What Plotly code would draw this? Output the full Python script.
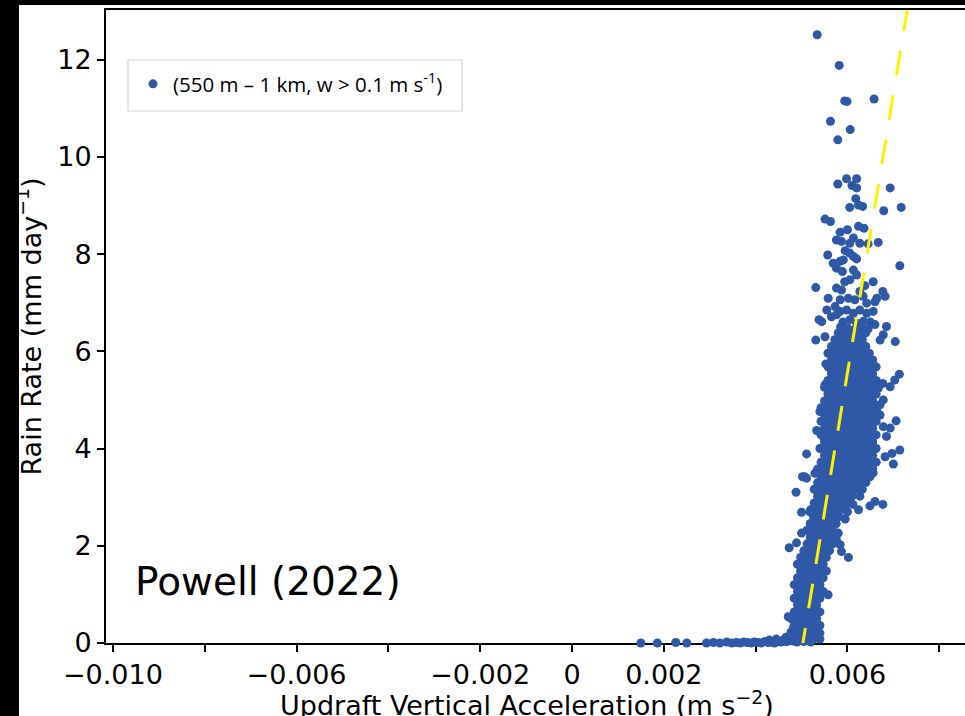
import plotly.graph_objects as go

# ---------------- data ----------------
# Points lying on (or just above) the zero-rain baseline: (acceleration m s^-2, rain rate mm/day)
baseline_pts = [
    (0.00150, 0.00), (0.00186, 0.00), (0.00226, 0.01), (0.00250, 0.00), (0.00293, 0.00),
    (0.00308, 0.01), (0.00322, 0.00), (0.00337, 0.02), (0.00348, 0.00), (0.00358, 0.01),
    (0.00366, 0.00), (0.00374, 0.02), (0.00382, 0.01), (0.00390, 0.00), (0.00397, 0.02),
    (0.00405, 0.01), (0.00412, 0.00), (0.00420, 0.03), (0.00427, 0.01), (0.00434, 0.02),
    (0.00441, 0.00), (0.00448, 0.03), (0.00455, 0.02), (0.00462, 0.04), (0.00468, 0.03),
    (0.00475, 0.05), (0.00482, 0.04), (0.00490, 0.02), (0.00498, 0.06), (0.00505, 0.03),
    (0.00512, 0.05), (0.00520, 0.02), (0.00430, 0.06), (0.00445, 0.08), (0.00458, 0.05),
    (0.00466, 0.12), (0.00440, 0.03), (0.00472, 0.10), (0.00480, 0.15),
]

# Dense stem (rain rate 0 - 2.6): one row of accelerations per rain-rate level
stem_row_y = [0.08, 0.22, 0.36, 0.50, 0.64, 0.78, 0.92, 1.06, 1.20, 1.34,
              1.48, 1.62, 1.76, 1.90, 2.04, 2.18, 2.32, 2.46, 2.60]
stem_row_x = [
    [0.00470, 0.00484, 0.00498, 0.00512, 0.00526, 0.00540],
    [0.00477, 0.00491, 0.00505, 0.00519, 0.00533],
    [0.00484, 0.00498, 0.00512, 0.00526, 0.00540],
    [0.00477, 0.00491, 0.00505, 0.00519, 0.00533],
    [0.00484, 0.00498, 0.00512, 0.00526, 0.00540],
    [0.00491, 0.00505, 0.00519, 0.00533],
    [0.00484, 0.00498, 0.00512, 0.00526, 0.00540],
    [0.00491, 0.00505, 0.00519, 0.00533, 0.00547],
    [0.00484, 0.00498, 0.00512, 0.00526, 0.00540],
    [0.00491, 0.00505, 0.00519, 0.00533, 0.00547],
    [0.00498, 0.00512, 0.00526, 0.00540, 0.00554],
    [0.00491, 0.00505, 0.00519, 0.00533, 0.00547],
    [0.00498, 0.00512, 0.00526, 0.00540, 0.00554],
    [0.00505, 0.00519, 0.00533, 0.00547, 0.00561],
    [0.00512, 0.00526, 0.00540, 0.00554, 0.00568],
    [0.00519, 0.00533, 0.00547, 0.00561, 0.00575],
    [0.00512, 0.00526, 0.00540, 0.00554, 0.00568],
    [0.00519, 0.00533, 0.00547, 0.00561, 0.00575],
    [0.00526, 0.00540, 0.00554, 0.00568, 0.00582],
]

# Dense core (rain rate 2.7 - 6.4)
core_row_y = [2.74, 2.88, 3.02, 3.16, 3.30, 3.44, 3.58, 3.72, 3.86, 4.00,
              4.14, 4.28, 4.42, 4.56, 4.70, 4.84, 4.98, 5.12, 5.26, 5.40,
              5.54, 5.68, 5.82, 5.96, 6.10, 6.24, 6.38]
core_row_x = [
    [0.005200, 0.005350, 0.005500, 0.005650, 0.005800, 0.005950],
    [0.005275, 0.005425, 0.005575, 0.005725, 0.005875, 0.006025],
    [0.005350, 0.005500, 0.005650, 0.005800, 0.005950, 0.006100],
    [0.005275, 0.005425, 0.005575, 0.005725, 0.005875, 0.006025, 0.006175, 0.006325],
    [0.005350, 0.005500, 0.005650, 0.005800, 0.005950, 0.006100, 0.006250, 0.006400],
    [0.005425, 0.005575, 0.005725, 0.005875, 0.006025, 0.006175, 0.006325, 0.006475],
    [0.005350, 0.005500, 0.005650, 0.005800, 0.005950, 0.006100, 0.006250, 0.006400, 0.006550],
    [0.005425, 0.005575, 0.005725, 0.005875, 0.006025, 0.006175, 0.006325, 0.006475, 0.006625],
    [0.005500, 0.005650, 0.005800, 0.005950, 0.006100, 0.006250, 0.006400, 0.006550],
    [0.005425, 0.005575, 0.005725, 0.005875, 0.006025, 0.006175, 0.006325, 0.006475, 0.006625],
    [0.005500, 0.005650, 0.005800, 0.005950, 0.006100, 0.006250, 0.006400, 0.006550],
    [0.005425, 0.005575, 0.005725, 0.005875, 0.006025, 0.006175, 0.006325, 0.006475, 0.006625],
    [0.005500, 0.005650, 0.005800, 0.005950, 0.006100, 0.006250, 0.006400, 0.006550],
    [0.005425, 0.005575, 0.005725, 0.005875, 0.006025, 0.006175, 0.006325, 0.006475, 0.006625],
    [0.005500, 0.005650, 0.005800, 0.005950, 0.006100, 0.006250, 0.006400, 0.006550],
    [0.005425, 0.005575, 0.005725, 0.005875, 0.006025, 0.006175, 0.006325, 0.006475, 0.006625],
    [0.005500, 0.005650, 0.005800, 0.005950, 0.006100, 0.006250, 0.006400, 0.006550],
    [0.005575, 0.005725, 0.005875, 0.006025, 0.006175, 0.006325, 0.006475, 0.006625],
    [0.005500, 0.005650, 0.005800, 0.005950, 0.006100, 0.006250, 0.006400, 0.006550],
    [0.005575, 0.005725, 0.005875, 0.006025, 0.006175, 0.006325, 0.006475, 0.006625],
    [0.005650, 0.005800, 0.005950, 0.006100, 0.006250, 0.006400, 0.006550],
    [0.005575, 0.005725, 0.005875, 0.006025, 0.006175, 0.006325, 0.006475, 0.006625],
    [0.005650, 0.005800, 0.005950, 0.006100, 0.006250, 0.006400, 0.006550],
    [0.005575, 0.005725, 0.005875, 0.006025, 0.006175, 0.006325, 0.006475],
    [0.005650, 0.005800, 0.005950, 0.006100, 0.006250, 0.006400],
    [0.005725, 0.005875, 0.006025, 0.006175, 0.006325],
    [0.005800, 0.005950, 0.006100, 0.006250, 0.006400],
]

# Scattered points around the lower stem
lower_pts = [
    (0.00488, 3.10), (0.00502, 3.42), (0.00511, 3.39), (0.00500, 2.69), (0.00518, 2.70),
    (0.00500, 2.26), (0.00473, 1.96), (0.00489, 2.06), (0.00587, 1.88), (0.00602, 1.76),
    (0.00627, 3.02), (0.00649, 2.82), (0.00660, 2.91), (0.00677, 2.85), (0.00624, 2.74),
    (0.00471, 0.54), (0.00482, 0.30), (0.00558, 0.99), (0.00584, 2.02), (0.00576, 2.12),
    (0.00580, 2.26), (0.00570, 2.95), (0.00585, 2.80), (0.00600, 2.70), (0.00612, 2.85),
    (0.00595, 2.55), (0.00575, 2.45), (0.00478, 0.15), (0.00488, 0.05), (0.00540, 0.20),
]

# Scattered points on the flanks of the core
mid_pts = [
    (0.00713, 5.53), (0.00703, 5.41), (0.00693, 5.27), (0.00553, 5.74), (0.00562, 5.65),
    (0.00667, 5.24), (0.00677, 5.34), (0.00551, 5.31), (0.00678, 5.00), (0.00671, 4.90),
    (0.00664, 4.76), (0.00671, 4.69), (0.00540, 4.76), (0.00706, 4.57), (0.00533, 4.37),
    (0.00693, 4.42), (0.00678, 4.45), (0.00685, 4.25), (0.00547, 4.25), (0.00714, 3.97),
    (0.00697, 3.90), (0.00682, 3.83), (0.00700, 3.68), (0.00511, 3.89), (0.00540, 4.00),
    (0.00507, 3.42), (0.00529, 3.49), (0.00656, 3.50), (0.00649, 3.42),
]

# Sparse upper points (rain rate > 6.4)
upper_pts = [
    (0.00534, 12.51), (0.00582, 11.88), (0.00594, 11.15), (0.00599, 11.14), (0.00658, 11.19),
    (0.00563, 10.73), (0.00606, 10.56), (0.00579, 10.35),
    (0.00598, 9.55), (0.00620, 9.55), (0.00579, 9.44), (0.00610, 9.41), (0.00620, 9.36),
    (0.00693, 9.36), (0.00618, 9.14), (0.00605, 8.96), (0.00624, 9.01), (0.00633, 8.98),
    (0.00679, 8.89), (0.00717, 8.96),
    (0.00551, 8.72), (0.00563, 8.67), (0.00624, 8.57), (0.00636, 8.53), (0.00584, 8.45),
    (0.00600, 8.50), (0.00576, 8.29), (0.00587, 8.26), (0.00605, 8.22), (0.00613, 8.33),
    (0.00627, 8.22), (0.00645, 8.21), (0.00667, 8.24), (0.00595, 8.07), (0.00605, 8.02),
    (0.00557, 7.98), (0.00613, 7.95), (0.00620, 7.90), (0.00569, 7.81), (0.00584, 7.85),
    (0.00591, 7.88), (0.00576, 7.71), (0.00589, 7.64), (0.00714, 7.76), (0.00613, 7.67),
    (0.00620, 7.57), (0.00531, 7.31), (0.00594, 7.43), (0.00605, 7.47), (0.00656, 7.43),
    (0.00576, 7.30), (0.00587, 7.26), (0.00638, 7.35), (0.00627, 7.23), (0.00558, 7.09),
    (0.00677, 7.23), (0.00682, 7.13), (0.00664, 7.09), (0.00660, 7.02), (0.00584, 7.06),
    (0.00602, 7.09), (0.00616, 7.06), (0.00634, 7.13), (0.00642, 6.99), (0.00555, 6.85),
    (0.00573, 6.92), (0.00584, 6.82), (0.00538, 6.65), (0.00544, 6.61), (0.00565, 6.71),
    (0.00576, 6.75), (0.00598, 6.85), (0.00613, 6.78), (0.00627, 6.85), (0.00642, 6.78),
    (0.00656, 6.82), (0.00685, 6.51), (0.00531, 6.23), (0.00551, 6.30), (0.00704, 6.20),
    (0.00678, 6.34), (0.00671, 6.23), (0.00590, 6.60), (0.00605, 6.65), (0.00620, 6.58),
    (0.00635, 6.62), (0.00650, 6.60), (0.00600, 6.48), (0.00615, 6.45), (0.00630, 6.50),
    (0.00645, 6.46), (0.00660, 6.55), (0.00585, 6.50),
]

# Dashed fit line end points
fit_x = [0.004995, 0.00742]
fit_y = [-0.2, 13.7]

x_major_vals = [-0.010, -0.006, -0.002, 0.0, 0.002, 0.006]
x_major_text = ["−0.010", "−0.006", "−0.002", "0", "0.002", "0.006"]
x_minor_vals = [-0.008, -0.004, 0.004, 0.008]
y_tick_vals = [0, 2, 4, 6, 8, 10, 12]

legend_label = "(550 m – 1 km, w > 0.1 m s<sup>-1</sup>)"
annotation_label = "Powell (2022)"
x_title = "Updraft Vertical Acceleration (m s<sup>−2</sup>)"
y_title = "Rain Rate (mm day<sup>−1</sup>)"

# ---------------- build ----------------
all_x, all_y = [], []
for px_, py_ in baseline_pts:
    all_x.append(px_); all_y.append(py_)
for yv, row in zip(stem_row_y, stem_row_x):
    for xv in row:
        all_x.append(xv); all_y.append(yv)
for yv, row in zip(core_row_y, core_row_x):
    for xv in row:
        all_x.append(xv); all_y.append(yv)
for group in (lower_pts, mid_pts, upper_pts):
    for px_, py_ in group:
        all_x.append(px_); all_y.append(py_)

BLUE = "#2f59a7"
FONT = "DejaVu Sans"
TICK_SIZE = 27

fig = go.Figure()
fig.add_trace(go.Scatter(
    x=all_x, y=all_y, mode="markers", name=legend_label,
    marker=dict(color=BLUE, size=9, line=dict(width=0)),
    cliponaxis=False, showlegend=True,
))
fig.add_trace(go.Scatter(
    x=fit_x, y=fit_y, mode="lines", showlegend=False,
    line=dict(color="#fff200", width=3, dash="25px,20px"),
))

W, H = 965, 716
L, R, T, B = 106, 0, 10, 73
pw, ph = W - L - R, H - T - B

def px2paper_x(px):
    return (px - L) / pw

def px2paper_y(py):
    return (H - B - py) / ph

fig.update_layout(
    width=W, height=H,
    margin=dict(l=L, r=R, t=T, b=B, pad=0, autoexpand=False),
    paper_bgcolor="white", plot_bgcolor="white",
    font=dict(family=FONT, color="black", size=TICK_SIZE),
    xaxis=dict(
        range=[-0.01015, 0.00856], showgrid=False, zeroline=False, automargin=False,
        showline=True, linecolor="black", linewidth=2, mirror=True,
        ticks="outside", ticklen=7, tickwidth=1.5, tickcolor="black",
        tickmode="array", tickvals=x_major_vals, ticktext=x_major_text,
        minor=dict(tickmode="array", tickvals=x_minor_vals, ticks="outside",
                   ticklen=7, tickwidth=1.5, tickcolor="black", showgrid=False),
        tickfont=dict(family=FONT, size=TICK_SIZE, color="black"),
        layer="below traces",
    ),
    yaxis=dict(
        range=[0, 13.02], showgrid=False, zeroline=False, automargin=False,
        showline=True, linecolor="black", linewidth=2, mirror=False,
        ticks="outside", ticklen=7, tickwidth=1.5, tickcolor="black",
        tickvals=y_tick_vals,
        tickfont=dict(family=FONT, size=TICK_SIZE, color="black"),
        title=dict(text=y_title, font=dict(family=FONT, size=TICK_SIZE, color="black"), standoff=8),
        layer="below traces",
    ),
    legend=dict(
        x=px2paper_x(133), y=px2paper_y(64), xanchor="left", yanchor="top",
        bgcolor="rgba(0,0,0,0)", borderwidth=0,
        font=dict(family="Open Sans", size=20.5, color="black"),
    ),
    annotations=[
        dict(text=annotation_label, x=px2paper_x(133), y=px2paper_y(581),
             xref="paper", yref="paper", xanchor="left", yanchor="middle",
             showarrow=False, font=dict(family=FONT, size=39, color="black")),
        # x-axis title (its lower edge runs off the page, as in the original)
        dict(text=x_title, x=px2paper_x(527), y=px2paper_y(684),
             xref="paper", yref="paper", xanchor="center", yanchor="top",
             showarrow=False, font=dict(family=FONT, size=TICK_SIZE, color="black")),
    ],
    shapes=[
        # legend frame
        dict(type="rect", xref="paper", yref="paper", layer="above",
             x0=px2paper_x(128), x1=px2paper_x(462), y0=px2paper_y(111), y1=px2paper_y(60),
             fillcolor="white", line=dict(color="#d4d4d4", width=1.2)),
        # black page borders
        dict(type="rect", xref="paper", yref="paper", layer="above",
             x0=px2paper_x(0), x1=px2paper_x(19), y0=px2paper_y(716), y1=px2paper_y(0),
             fillcolor="black", line=dict(width=0)),
        dict(type="rect", xref="paper", yref="paper", layer="above",
             x0=px2paper_x(0), x1=px2paper_x(965), y0=px2paper_y(5), y1=px2paper_y(0),
             fillcolor="black", line=dict(width=0)),
    ],
)

fig.write_html("out.html")
